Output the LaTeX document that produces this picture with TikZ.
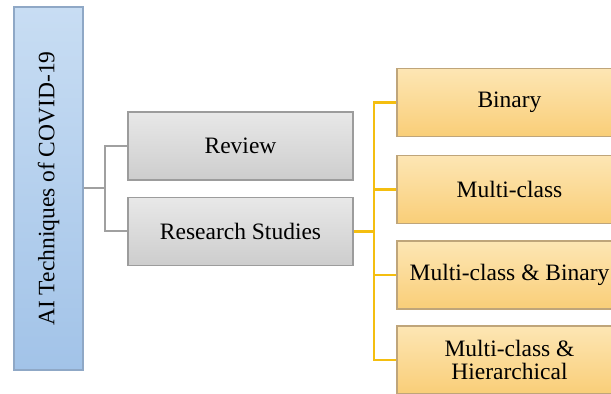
\documentclass[tikz,border=0pt]{standalone}
\usepackage{fontspec}
\setmainfont{Liberation Serif}
\usepackage{tikz}
\usetikzlibrary{positioning,calc}
\definecolor{bluetop}{HTML}{C8DDF3}
\definecolor{bluebot}{HTML}{A2C3E8}
\definecolor{blueedge}{HTML}{8FA8C6}
\definecolor{graytop}{HTML}{E8E8E8}
\definecolor{graybot}{HTML}{CDCDCD}
\definecolor{grayedge}{HTML}{9C9C9C}
\definecolor{orangetop}{HTML}{FDE6B4}
\definecolor{orangebot}{HTML}{F9CE78}
\definecolor{orangeedge}{HTML}{BFA57A}
\definecolor{linegray}{HTML}{A0A0A0}
\definecolor{lineyellow}{HTML}{F4BE10}

\begin{document}
\begin{tikzpicture}[x=0.5pt, y=-0.5pt,
  font=\fontsize{11.75}{11.9}\selectfont,
  rootbox/.style={draw=blueedge, line width=0.6pt, top color=bluetop, bottom color=bluebot,
    minimum width=181.5pt, minimum height=34.5pt, rotate=90, inner sep=0pt},
  midbox/.style={draw=grayedge, line width=0.6pt, top color=graytop, bottom color=graybot,
    minimum width=112.5pt, minimum height=34pt, inner sep=0pt},
  leafbox/.style={draw=orangeedge, line width=0.6pt, top color=orangetop, bottom color=orangebot,
    minimum width=112.5pt, minimum height=34pt, inner sep=0pt, align=center},
  grayline/.style={draw=linegray, line width=1pt},
  yelline/.style={draw=lineyellow, line width=1.2pt}]
\clip (0,0) rectangle (611,394);
\node[rootbox] (ai) at (48.5,188.5) {AI Techniques of COVID-19};
\node[midbox] (review) at (240.5,146) {Review};
\node[midbox] (research) at (240.5,231.5) {Research Studies};
\node[leafbox] (binary) at (509.5,102.5) {Binary};
\node[leafbox] (multi) at (509.5,189.5) {Multi-class};
\node[leafbox] (multibin) at (509.5,275) {Multi-class \& Binary};
\node[leafbox] (multihier) at (509.5,360) {Multi-class \&\\Hierarchical};
% ai is rotated, so its right side is the south anchor
\coordinate (gsplit) at (105,188.5);
\draw[grayline] (ai.south) -- (gsplit);
\draw[grayline] (gsplit) |- (review.west);
\draw[grayline] (gsplit) |- (research.west);
\coordinate (ysplit) at (374,231.5);
\draw[yelline] (research.east) -- (ysplit);
\foreach \leaf in {binary,multi,multibin,multihier}
  \draw[yelline] (ysplit) |- (\leaf.west);
\end{tikzpicture}
\end{document}
